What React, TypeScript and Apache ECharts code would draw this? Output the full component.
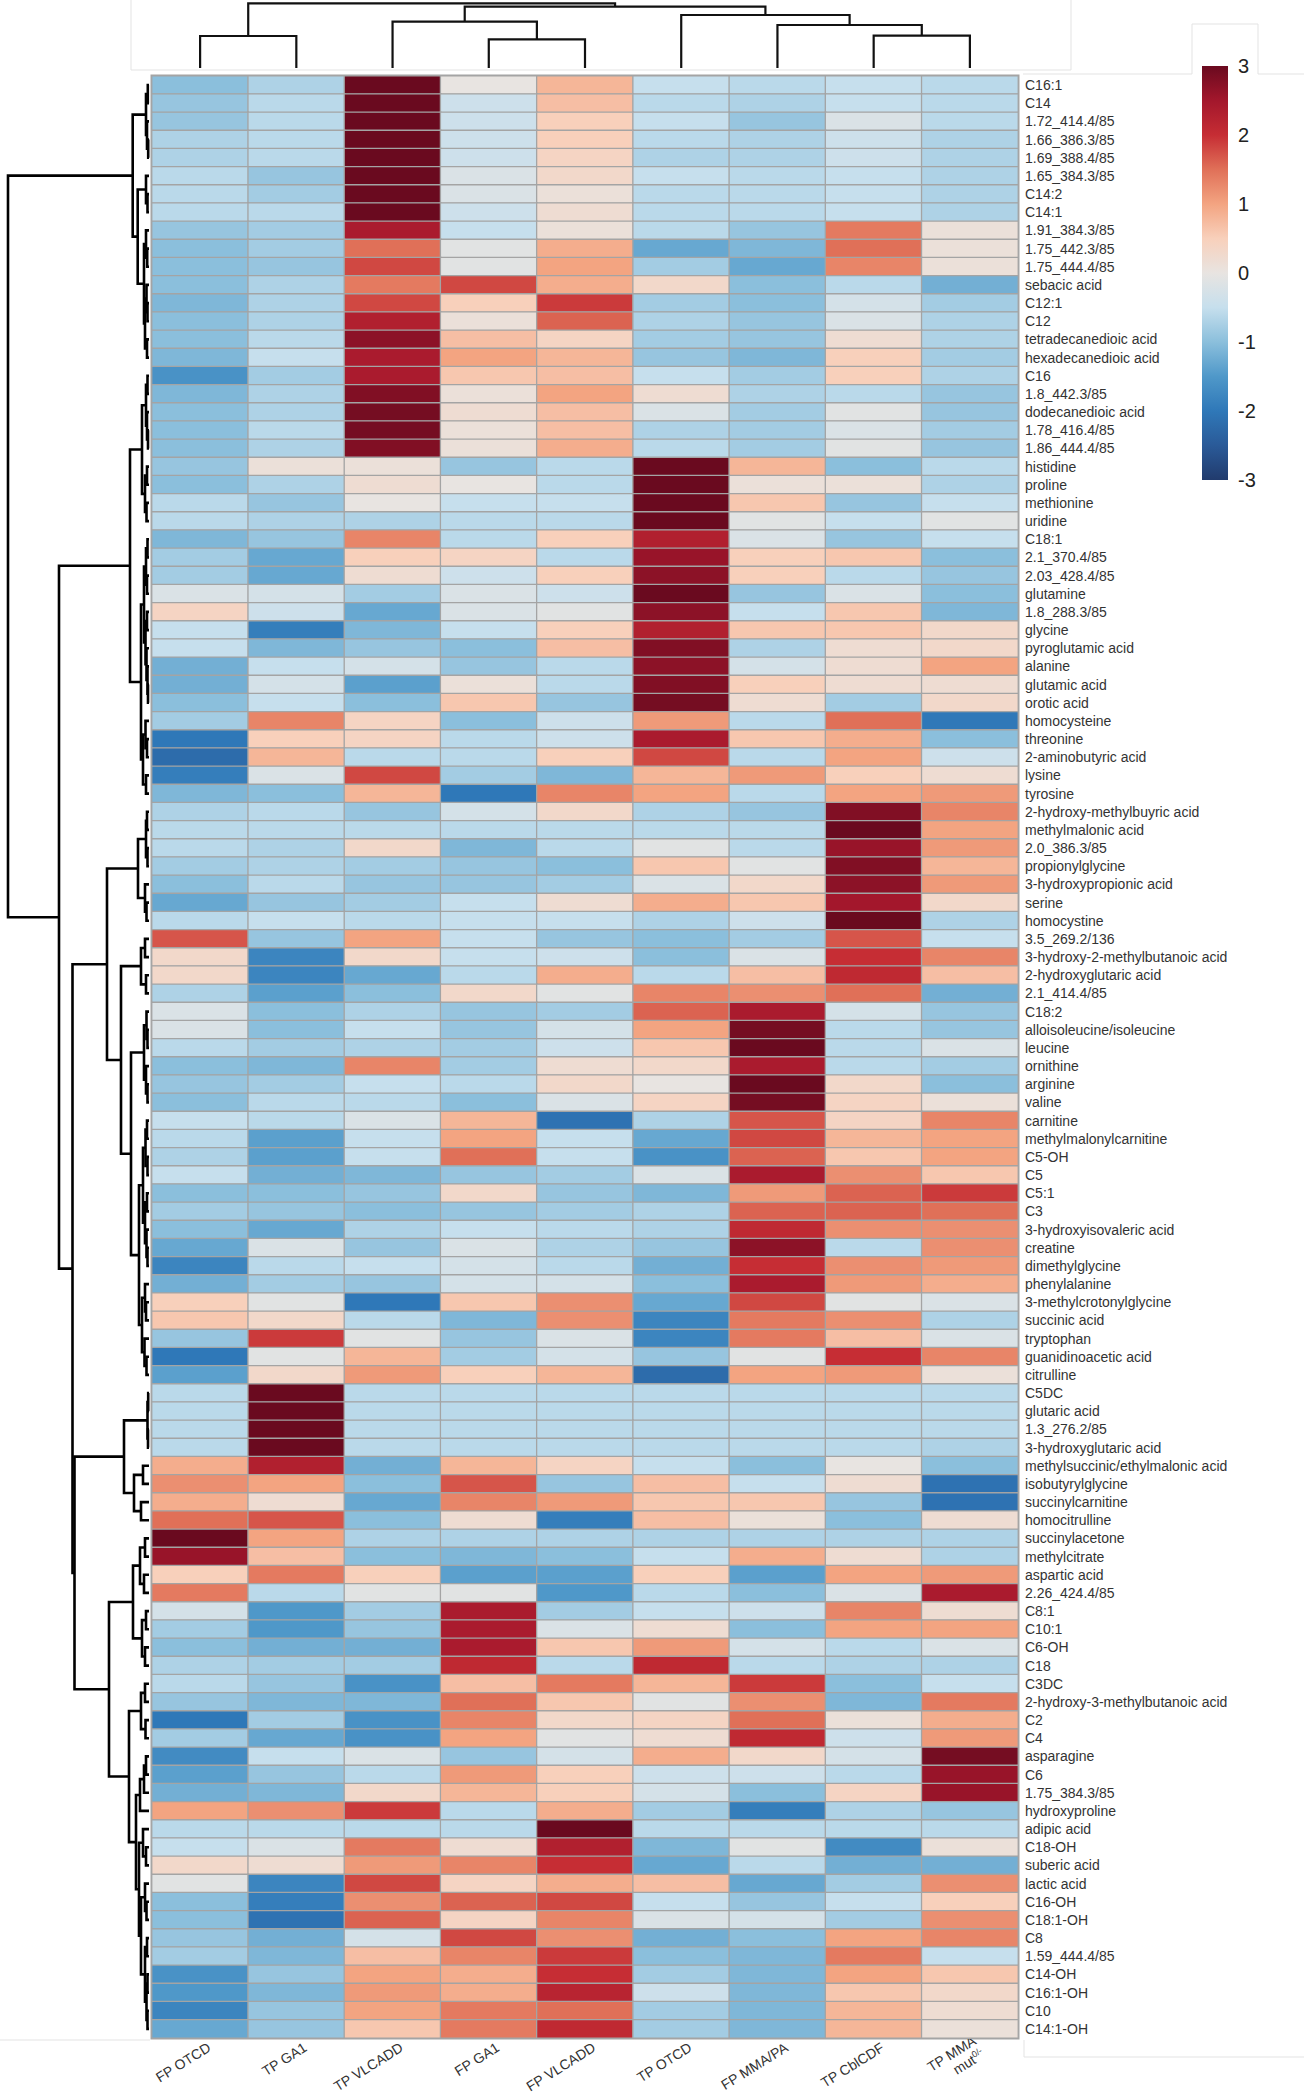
import React, { useEffect, useRef } from "react";
import * as echarts from "echarts";

// ---------- DATA ----------
const columnLabels = [
  "FP OTCD", "TP GA1", "TP VLCADD", "FP GA1", "FP VLCADD",
  "TP OTCD", "FP MMA/PA", "TP CblCDF", "TP MMA mut0/-",
];

const rowLabels = [
  "C16:1", "C14", "1.72_414.4/85", "1.66_386.3/85", "1.69_388.4/85", "1.65_384.3/85", "C14:2", "C14:1",
  "1.91_384.3/85", "1.75_442.3/85", "1.75_444.4/85", "sebacic acid", "C12:1", "C12", "tetradecanedioic acid",
  "hexadecanedioic acid", "C16", "1.8_442.3/85", "dodecanedioic acid", "1.78_416.4/85", "1.86_444.4/85",
  "histidine", "proline", "methionine", "uridine", "C18:1", "2.1_370.4/85", "2.03_428.4/85", "glutamine",
  "1.8_288.3/85", "glycine", "pyroglutamic acid", "alanine", "glutamic acid", "orotic acid", "homocysteine",
  "threonine", "2-aminobutyric acid", "lysine", "tyrosine", "2-hydroxy-methylbuyric acid", "methylmalonic acid",
  "2.0_386.3/85", "propionylglycine", "3-hydroxypropionic acid", "serine", "homocystine", "3.5_269.2/136",
  "3-hydroxy-2-methylbutanoic acid", "2-hydroxyglutaric acid", "2.1_414.4/85", "C18:2", "alloisoleucine/isoleucine",
  "leucine", "ornithine", "arginine", "valine", "carnitine", "methylmalonylcarnitine", "C5-OH", "C5", "C5:1", "C3",
  "3-hydroxyisovaleric acid", "creatine", "dimethylglycine", "phenylalanine", "3-methylcrotonylglycine",
  "succinic acid", "tryptophan", "guanidinoacetic acid", "citrulline", "C5DC", "glutaric acid", "1.3_276.2/85",
  "3-hydroxyglutaric acid", "methylsuccinic/ethylmalonic acid", "isobutyrylglycine", "succinylcarnitine",
  "homocitrulline", "succinylacetone", "methylcitrate", "aspartic acid", "2.26_424.4/85", "C8:1", "C10:1", "C6-OH",
  "C18", "C3DC", "2-hydroxy-3-methylbutanoic acid", "C2", "C4", "asparagine", "C6", "1.75_384.3/85",
  "hydroxyproline", "adipic acid", "C18-OH", "suberic acid", "lactic acid", "C16-OH", "C18:1-OH", "C8",
  "1.59_444.4/85", "C14-OH", "C16:1-OH", "C10", "C14:1-OH",
];

// one row per metabolite, columns in the order of columnLabels
const cellValues: number[][] = [
  [-1.0, -0.7, 3.0, 0.0, 0.8, -0.5, -0.6, -0.5, -0.6],
  [-0.9, -0.6, 3.0, -0.4, 0.7, -0.6, -0.7, -0.5, -0.6],
  [-0.9, -0.6, 3.0, -0.4, 0.5, -0.5, -0.9, -0.2, -0.6],
  [-0.7, -0.6, 3.0, -0.4, 0.5, -0.6, -0.7, -0.4, -0.7],
  [-0.7, -0.6, 3.0, -0.4, 0.4, -0.7, -0.7, -0.4, -0.7],
  [-0.6, -0.9, 3.0, -0.2, 0.3, -0.5, -0.6, -0.5, -0.7],
  [-0.6, -0.8, 3.0, -0.2, 0.1, -0.6, -0.6, -0.5, -0.7],
  [-0.6, -0.6, 3.0, -0.4, 0.2, -0.6, -0.6, -0.5, -0.7],
  [-0.9, -0.8, 2.4, -0.5, 0.1, -0.6, -0.9, 1.4, 0.1],
  [-1.0, -0.8, 1.5, -0.1, 0.9, -1.3, -1.1, 1.5, 0.1],
  [-1.0, -0.9, 1.8, -0.1, 1.0, -0.8, -1.3, 1.3, 0.1],
  [-1.0, -0.7, 1.4, 1.8, 0.9, 0.3, -1.0, -0.6, -1.2],
  [-1.1, -0.7, 1.8, 0.5, 1.9, -0.8, -1.0, -0.3, -0.8],
  [-1.0, -0.7, 2.3, 0.1, 1.6, -0.7, -0.9, -0.2, -0.7],
  [-1.0, -0.6, 2.7, 0.7, 0.4, -0.8, -0.9, 0.2, -0.7],
  [-1.1, -0.5, 2.4, 1.0, 0.8, -0.9, -1.1, 0.5, -0.8],
  [-1.6, -0.8, 2.4, 0.6, 0.7, -0.5, -0.8, 0.5, -0.7],
  [-1.1, -0.7, 2.8, 0.1, 1.0, 0.2, -0.7, -0.6, -0.9],
  [-1.0, -0.7, 2.9, 0.2, 0.7, -0.2, -0.8, -0.1, -0.9],
  [-1.0, -0.6, 2.9, 0.1, 0.7, -0.7, -0.8, -0.2, -0.8],
  [-1.0, -0.7, 2.8, 0.1, 0.9, -0.6, -0.8, -0.1, -0.9],
  [-0.9, 0.1, 0.1, -0.9, -0.6, 3.0, 0.8, -1.0, -0.6],
  [-1.0, -0.7, 0.2, 0.0, -0.6, 3.0, 0.1, 0.1, -0.7],
  [-0.6, -0.9, 0.0, -0.5, -0.5, 3.0, 0.6, -0.9, -0.5],
  [-0.6, -0.7, -0.7, -0.6, -0.6, 3.1, -0.1, -0.5, -0.1],
  [-1.1, -0.9, 1.3, -0.6, 0.5, 2.3, -0.2, -0.9, -0.5],
  [-0.8, -1.3, 0.5, 0.4, -0.6, 2.6, 0.5, 0.6, -1.0],
  [-0.8, -1.3, 0.2, -0.4, 0.5, 2.7, 0.5, -0.6, -0.9],
  [-0.2, -0.3, -0.8, -0.2, -0.4, 3.1, -0.9, -0.2, -1.0],
  [0.4, -0.4, -1.3, -0.2, -0.1, 2.7, -0.5, 0.6, -1.1],
  [-0.5, -1.9, -1.1, -0.5, 0.5, 2.3, 0.6, 0.6, 0.3],
  [-0.5, -1.1, -0.9, -1.0, 0.7, 2.8, -0.7, 0.2, 0.3],
  [-1.2, -0.5, -0.3, -0.9, -0.6, 2.7, -0.3, 0.2, 1.0],
  [-1.2, -0.3, -1.4, 0.1, -0.6, 2.8, 0.5, 0.2, 0.2],
  [-1.0, -0.5, -1.0, 0.6, -0.9, 2.9, 0.2, -0.8, 0.3],
  [-0.8, 1.3, 0.4, -1.0, -0.4, 1.1, -0.6, 1.5, -2.0],
  [-2.0, 0.5, 0.4, -0.6, -0.4, 2.4, 0.6, 0.9, -1.0],
  [-2.2, 0.8, -0.6, -0.6, 0.5, 1.8, -0.6, 1.0, -0.4],
  [-1.9, -0.2, 1.8, -0.8, -1.1, 0.8, 1.1, 0.5, 0.2],
  [-1.1, -1.0, 0.8, -2.0, 1.3, 1.0, -0.6, 1.0, 1.1],
  [-0.7, -0.6, -0.9, -0.3, 0.3, -0.7, -0.9, 2.8, 1.3],
  [-0.6, -0.6, -0.6, -0.6, -0.6, -0.6, -0.6, 3.0, 1.0],
  [-0.6, -0.7, 0.3, -1.1, -0.6, -0.1, -0.6, 2.6, 1.1],
  [-0.8, -0.7, -0.8, -0.9, -1.0, 0.6, -0.1, 2.8, 0.8],
  [-1.0, -0.6, -0.9, -0.9, -0.8, -0.2, 0.3, 2.7, 1.1],
  [-1.3, -0.9, -0.8, -0.5, 0.2, 0.9, 0.6, 2.5, 0.3],
  [-0.6, -0.5, -0.6, -0.5, -0.5, -0.7, -0.4, 3.3, -0.7],
  [1.7, -0.9, 1.0, -0.5, -0.9, -1.0, -0.8, 1.7, -0.5],
  [0.3, -1.8, 0.3, -0.5, -0.4, -1.0, -0.2, 2.0, 1.3],
  [0.3, -1.8, -1.3, -0.6, 0.9, -0.6, 0.7, 2.1, 0.7],
  [-0.7, -1.4, -1.0, 0.3, -0.1, 1.3, 1.2, 1.5, -1.2],
  [-0.2, -1.0, -0.7, -0.9, -0.8, 1.6, 2.4, -0.3, -0.9],
  [-0.2, -1.0, -0.5, -0.9, -0.3, 1.0, 2.9, -0.6, -0.9],
  [-0.6, -0.8, -0.7, -0.8, -0.4, 0.6, 3.1, -0.6, -0.2],
  [-1.0, -1.1, 1.3, -0.8, 0.2, 0.3, 2.4, -0.6, -0.8],
  [-0.9, -0.8, -0.5, -0.6, 0.3, 0.0, 3.0, 0.3, -1.0],
  [-1.0, -0.6, -0.6, -1.0, -0.2, 0.4, 2.9, 0.4, 0.1],
  [-0.5, -0.6, -0.2, 0.8, -2.1, -0.7, 1.7, 0.4, 1.3],
  [-0.6, -1.4, -0.5, 1.0, -0.5, -1.3, 1.8, 0.8, 1.0],
  [-0.7, -1.4, -0.5, 1.5, -0.5, -1.6, 1.6, 0.6, 1.0],
  [-0.5, -1.2, -1.1, -0.9, -0.8, -0.2, 2.4, 1.2, 0.6],
  [-1.0, -1.0, -0.9, 0.3, -0.9, -1.1, 1.1, 1.6, 1.9],
  [-0.8, -0.9, -1.0, -0.9, -0.8, -0.7, 1.6, 1.6, 1.5],
  [-1.0, -1.3, -0.7, -0.5, -0.6, -0.7, 2.1, 1.2, 1.2],
  [-1.3, -0.2, -0.9, -0.2, -0.7, -0.9, 2.7, -0.6, 1.2],
  [-1.8, -0.6, -0.5, -0.3, -0.6, -1.2, 2.0, 1.2, 1.1],
  [-1.2, -0.8, -0.9, -0.3, -0.3, -1.0, 2.4, 1.1, 0.9],
  [0.5, -0.1, -2.0, 0.6, 1.2, -1.3, 1.8, -0.1, -0.2],
  [0.6, 0.3, -0.6, -1.1, 1.2, -1.8, 1.4, 1.2, -0.7],
  [-0.9, 1.9, -0.1, -0.9, -0.2, -1.8, 1.4, 0.7, -0.2],
  [-2.0, -0.1, 0.8, -0.8, -0.3, -0.9, -0.1, 2.0, 1.3],
  [-1.4, 0.3, 1.1, 0.5, 0.8, -2.2, 1.0, 1.1, 0.1],
  [-0.6, 3.2, -0.6, -0.6, -0.6, -0.6, -0.6, -0.6, -0.6],
  [-0.6, 3.2, -0.6, -0.6, -0.6, -0.6, -0.6, -0.6, -0.6],
  [-0.6, 3.2, -0.6, -0.6, -0.6, -0.6, -0.6, -0.6, -0.6],
  [-0.6, 3.2, -0.6, -0.6, -0.6, -0.6, -0.6, -0.6, -0.7],
  [0.9, 2.3, -1.2, 0.8, 0.4, -0.5, -1.0, 0.0, -1.0],
  [1.2, 1.0, -1.0, 1.7, -0.9, 0.7, -0.5, 0.2, -2.1],
  [0.9, 0.2, -1.3, 1.3, 1.1, 0.6, 0.6, -0.9, -2.1],
  [1.5, 1.7, -1.0, 0.2, -1.9, 0.7, 0.1, -1.0, 0.2],
  [3.0, 1.0, -0.7, -0.7, -0.7, -0.7, -0.7, -0.7, -0.7],
  [2.6, 0.7, -1.0, -1.1, -1.0, -0.5, 0.9, 0.2, -0.7],
  [0.5, 1.4, 0.5, -1.4, -1.4, 0.5, -1.4, 1.0, 1.1],
  [1.4, -0.6, -0.1, -0.1, -1.5, -0.6, -1.0, -0.2, 2.4],
  [-0.3, -1.5, -0.8, 2.4, -0.8, -0.5, -0.4, 1.3, 0.2],
  [-0.8, -1.5, -0.9, 2.4, -0.2, 0.2, -1.0, 1.0, 1.0],
  [-1.0, -1.2, -1.2, 2.4, 0.6, 1.1, -0.3, -0.6, -0.2],
  [-0.7, -0.8, -0.8, 2.1, -0.6, 2.1, -0.6, -0.7, -0.7],
  [-0.6, -0.9, -1.6, 0.7, 1.4, 0.8, 1.9, -1.0, -0.5],
  [-0.9, -1.1, -1.1, 1.5, 0.6, -0.1, 1.2, -1.1, 1.4],
  [-2.0, -0.8, -1.6, 1.3, 0.3, 0.4, 1.5, 0.1, 0.9],
  [-0.8, -1.3, -1.6, 1.0, -0.1, 0.2, 2.1, -0.4, 1.1],
  [-1.7, -0.5, -0.2, -0.9, -0.3, 0.9, 0.3, -0.3, 2.9],
  [-1.4, -0.9, -0.6, 1.1, 0.5, -0.4, -0.4, -0.6, 2.6],
  [-1.2, -1.1, 0.3, 0.8, 0.5, -0.3, -1.0, 0.4, 2.6],
  [1.0, 1.2, 1.9, -0.6, 0.9, -0.8, -1.9, -0.7, -0.9],
  [-0.6, -0.6, -0.6, -0.6, 3.2, -0.6, -0.6, -0.6, -0.6],
  [-0.5, -0.2, 1.4, 0.2, 2.3, -1.1, -0.1, -1.7, 0.1],
  [0.3, 0.2, 1.1, 1.3, 2.0, -1.3, -0.6, -1.2, -1.2],
  [-0.1, -1.8, 1.8, 0.4, 0.9, 0.7, -1.3, -0.8, 1.2],
  [-1.0, -1.9, 1.2, 1.6, 1.8, -0.5, -0.9, -0.5, 0.5],
  [-1.0, -2.1, 1.6, 0.4, 1.3, -0.2, -0.3, -0.8, 1.2],
  [-0.9, -1.2, -0.3, 1.8, 1.2, -1.2, -1.0, 1.0, 1.3],
  [-0.8, -1.1, 0.7, 1.3, 1.9, -1.0, -1.1, 1.4, -0.5],
  [-1.6, -0.9, 1.0, 0.9, 2.0, -0.8, -1.1, 1.0, 0.6],
  [-1.5, -1.1, 1.1, 0.9, 2.2, -0.4, -1.1, 0.6, 0.3],
  [-1.8, -0.9, 1.0, 1.4, 1.5, -0.8, -1.1, 0.8, 0.2],
  [-1.3, -0.9, 0.6, 1.4, 2.1, -0.8, -1.1, 0.8, 0.1],
];

// colour scale (value -3 .. 3 in steps of 0.5)
const scaleMin = -3;
const scaleMax = 3;
const palette = [
  "#213b6d", "#2a5a98", "#2f78b8", "#4f98c9", "#8bbfdc", "#c6dfed", "#e8e4e1",
  "#f8d0bb", "#f3a481", "#e07058", "#c62d34", "#a3172c", "#6a0a1f",
];

// dendrograms: [height, left, right], leaves are indices
type Tree = number | [number, Tree, Tree];
const columnTree: Tree = [64.7, [32, 0, 1], [61.3, [46.3, 2, [28.7, 3, 4]], [53, 5, [43, 6, [32.3, 7, 8]]]]];

const clusterA1: Tree = [3, [1.2, 0, 1], [2, 2, [0.8, 3, 4]]];
const clusterA2: Tree = [11.3, [3, 5, [1.5, 6, 7]], [5, [3, 8, [1.8, 9, 10]], [4, [2.5, 11, [1.5, 12, 13]], [2, 14, 15]]]];
const clusterP1: Tree = [7, [3, [1.5, 16, 17], [2, 18, [1, 19, 20]]], [4, [2, 21, 22], [2.5, 23, 24]]];
const clusterP2: Tree = [8, [5, [3, [1.5, 25, 26], [2, 27, 28]], [3.5, [2, 29, 30], [2.5, 31, [1.5, 32, [1, 33, 34]]]]], [6, [3.5, 35, [2, 36, 37]], [3, 38, 39]]];
const clusterD1: Tree = [11, [3, [2, 40, 41], [1.5, 42, 43]], [4, 44, [2.5, 45, 46]]];
const clusterD2a: Tree = [8, [4, 47, 48], [3, 49, 50]];
const clusterD2b1: Tree = [5, [2.5, 51, [1.5, 52, 53]], [3, 54, [1.5, 55, 56]]];
const clusterD2b2: Tree = [10, [6, [3.5, [2, 57, 58], [1.5, 59, 60]], [4, [2, 61, 62], [2.5, 63, [1.5, 64, 65]]]], [7, [4, 66, [3, 67, 68]], [4.5, 69, [2.5, 70, 71]]]];
const clusterF: Tree = [25, [1.5, [0.8, 72, 73], [1, 74, 75]], [15, [6, 76, 77], [8, 78, 79]]];
const clusterE1: Tree = [16, [9, [4, 80, 81], [5, 82, 83]], [7, [3, 84, 85], [4, 86, 87]]];
const clusterE2: Tree = [20, [8, [4, 88, 89], [3.5, 90, 91]], [13, [9, [5, [3, 92, 93], 94], 95], [10, [6, 96, [3, 97, 98]], [8, [4, 99, [2.5, 100, 101]], [4, [2, 102, 103], [2.5, [1.5, 104, 105], [1.5, 106, 107]]]]]]];
const rowTree: Tree = [141,
  [16.3, clusterA1, clusterA2],
  [90,
    [19, clusterP1, clusterP2],
    [76.5,
      [42, clusterD1, [28, clusterD2a, [18, clusterD2b1, clusterD2b2]]],
      [74.5, clusterF, [40, clusterE1, clusterE2]],
    ],
  ],
];

// ---------- helpers ----------
function treeSegments(tree: Tree): number[][] {
  const segs: number[][] = [];
  const walk = (node: Tree): [number, number] => {
    if (typeof node === "number") return [node, 0];
    const [h, l, r] = node;
    const a = walk(l);
    const b = walk(r);
    segs.push([a[0], a[1], b[0], b[1], h]);
    return [(a[0] + b[0]) / 2, h];
  };
  walk(tree);
  return segs;
}

const LABEL_FONT = "'Liberation Sans Narrow', 'Liberation Sans', Arial, sans-serif";
const FAINT = "#e3e3e3";

function buildOption(): any {
  const heatData: number[][] = [];
  cellValues.forEach((row, r) => row.forEach((v, c) => heatData.push([c, r, v])));
  const colSegs = treeSegments(columnTree);
  const rowSegs = treeSegments(rowTree);
  const stops = palette
    .slice()
    .reverse()
    .map((color, i, arr) => ({ offset: i / (arr.length - 1), color }));

  const faintLine = (x1: number, y1: number, x2: number, y2: number) => ({
    type: "line",
    shape: { x1, y1, x2, y2 },
    style: { stroke: FAINT, lineWidth: 1 },
    silent: true,
    z: -1,
  });

  const hidden = { show: false };

  return {
    animation: false,
    backgroundColor: "#ffffff",
    graphic: [
      faintLine(131, 0, 131, 70),
      faintLine(131, 70, 1071, 70),
      faintLine(1071, 0, 1071, 70),
      faintLine(1023, 74, 1192, 74),
      faintLine(1192, 24, 1192, 74),
      faintLine(1192, 24, 1258, 24),
      faintLine(1258, 24, 1258, 74),
      faintLine(1258, 74, 1304, 74),
      faintLine(0, 2040, 150, 2040),
      faintLine(1024, 2040, 1024, 2057),
      faintLine(1024, 2057, 1304, 2057),
    ],
    grid: [
      { left: 152, top: 76, width: 866, height: 1962, show: true, backgroundColor: "#a4a4a4", borderColor: "#a4a4a4", borderWidth: 3, outerBoundsMode: "none", containLabel: false },
      { left: 152, top: 0, width: 866, height: 68, outerBoundsMode: "none" },
      { left: 1, top: 76, width: 148, height: 1962, outerBoundsMode: "none" },
      { left: 1202, top: 66, width: 26, height: 414, outerBoundsMode: "none" },
      { left: 161, top: 76, width: 866, height: 1962, outerBoundsMode: "none" },
    ],
    xAxis: [
      {
        gridIndex: 0,
        type: "category",
        data: columnLabels,
        position: "bottom",
        axisLine: hidden,
        axisTick: hidden,
        splitLine: hidden,
        axisLabel: hidden,
      },
      { gridIndex: 1, type: "value", min: -0.5, max: 8.5, show: false },
      { gridIndex: 2, type: "value", min: 0, max: 148, inverse: true, show: false },
      { gridIndex: 3, type: "value", min: 0, max: 1, show: false },
      {
        gridIndex: 4,
        type: "category",
        data: columnLabels,
        position: "bottom",
        axisLine: hidden,
        axisTick: hidden,
        splitLine: hidden,
        axisLabel: {
          interval: 0,
          rotate: 32,
          margin: 8,
          color: "#333",
          fontFamily: LABEL_FONT,
          fontSize: 14,
          formatter: (v: string) => {
            const i = v.indexOf(" mut");
            if (i < 0) return `{n|${v}}`;
            return `{n|${v.slice(0, i)}}\n{n|mut}{s|${v.slice(i + 4)}}`;
          },
          rich: {
            n: { fontSize: 14, fontFamily: LABEL_FONT, color: "#333", lineHeight: 16 },
            s: { fontSize: 9, fontFamily: LABEL_FONT, color: "#333", verticalAlign: "top", lineHeight: 16 },
          },
        },
      },
    ],
    yAxis: [
      {
        gridIndex: 0,
        type: "category",
        data: rowLabels,
        inverse: true,
        position: "right",
        axisLine: hidden,
        axisTick: hidden,
        splitLine: hidden,
        axisLabel: { interval: 0, margin: 7, fontSize: 14, color: "#333", fontFamily: LABEL_FONT },
      },
      { gridIndex: 1, type: "value", min: 0, max: 68, show: false },
      { gridIndex: 2, type: "value", min: -0.5, max: 107.5, inverse: true, show: false },
      {
        gridIndex: 3,
        type: "value",
        min: scaleMin,
        max: scaleMax,
        interval: 1,
        position: "right",
        axisLine: hidden,
        axisTick: hidden,
        splitLine: hidden,
        axisLabel: { fontSize: 20, margin: 10, color: "#222", fontFamily: "'Liberation Sans', Arial, sans-serif" },
      },
      { gridIndex: 4, type: "value", min: 0, max: 1, show: false },
    ],
    visualMap: [
      { type: "continuous", min: scaleMin, max: scaleMax, show: false, seriesIndex: 0, inRange: { color: palette } },
    ],
    series: [
      {
        type: "heatmap",
        xAxisIndex: 0,
        yAxisIndex: 0,
        data: heatData,
        progressive: 0,
        itemStyle: { borderColor: "#a4a4a4", borderWidth: 1.3 },
        emphasis: { disabled: true },
      },
      {
        type: "custom",
        xAxisIndex: 1,
        yAxisIndex: 1,
        data: colSegs,
        clip: false,
        silent: true,
        renderItem: (_p: any, api: any) => {
          const p1 = api.value(0), h1 = api.value(1), p2 = api.value(2), h2 = api.value(3), h = api.value(4);
          return {
            type: "polyline",
            shape: { points: [api.coord([p1, h1]), api.coord([p1, h]), api.coord([p2, h]), api.coord([p2, h2])] },
            style: { stroke: "#111", lineWidth: 2.2, fill: null },
          };
        },
      },
      {
        type: "custom",
        xAxisIndex: 2,
        yAxisIndex: 2,
        data: rowSegs,
        clip: false,
        silent: true,
        renderItem: (_p: any, api: any) => {
          const p1 = api.value(0), h1 = api.value(1), p2 = api.value(2), h2 = api.value(3), h = api.value(4);
          return {
            type: "polyline",
            shape: { points: [api.coord([h1, p1]), api.coord([h, p1]), api.coord([h, p2]), api.coord([h2, p2])] },
            style: { stroke: "#000", lineWidth: 2.6, fill: null },
          };
        },
      },
      {
        type: "custom",
        xAxisIndex: 3,
        yAxisIndex: 3,
        data: [[0, scaleMin]],
        clip: false,
        silent: true,
        renderItem: (_p: any, api: any) => {
          const a = api.coord([0, scaleMax]);
          const b = api.coord([1, scaleMin]);
          return {
            type: "rect",
            shape: { x: a[0], y: a[1], width: b[0] - a[0], height: b[1] - a[1] },
            style: { fill: new echarts.graphic.LinearGradient(0, 0, 0, 1, stops) },
          };
        },
      },
    ],
  };
}

export default function App() {
  const ref = useRef<HTMLDivElement>(null);
  useEffect(() => {
    document.body.style.margin = "0";
    const chart = echarts.init(ref.current!, null, { renderer: "svg" });
    chart.setOption(buildOption());
    return () => chart.dispose();
  }, []);
  return <div ref={ref} style={{ width: 1304, height: 2100, background: "#fff" }} />;
}
